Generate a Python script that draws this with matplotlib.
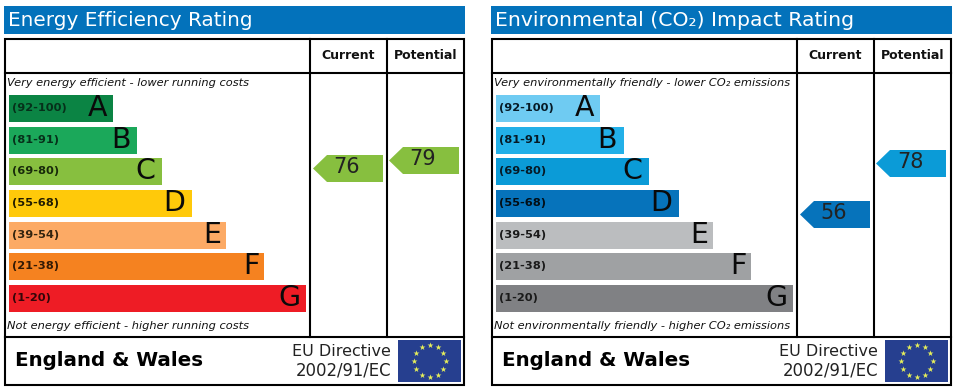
import matplotlib
matplotlib.use('Agg')
import matplotlib.pyplot as plt
from matplotlib.patches import Rectangle, Polygon
import numpy as np

# Bands, shared by both panels
bands = ['A', 'B', 'C', 'D', 'E', 'F', 'G']
ranges = ['(92-100)', '(81-91)', '(69-80)', '(55-68)', '(39-54)', '(21-38)', '(1-20)']
# bar lengths in px
bar_len_energy = [104, 128, 153, 183, 217, 255, 297]
bar_len_env = [104, 128, 153, 183, 217, 255, 297]
colors_energy = ['#0b8444', '#1ba85a', '#87bf3f', '#ffc90a', '#fcaa65', '#f58220', '#ee1c25']
colors_env = ['#6fcbf2', '#22b0e8', '#0b9bd7', '#0673bb', '#bbbdbf', '#9fa1a3', '#808184']
range_colors_energy = ['#06301a', '#06301a', '#182a0a', '#221c00', '#33240f', '#331a04', '#330608']
range_colors_env = ['#061a26', '#061a26', '#061a26', '#020e16', '#1a1a1a', '#1a1a1a', '#1a1a1a']

# Ratings: value and the y-centre of the arrow
current_energy = 76
potential_energy = 79
current_env = 56
potential_env = 78
y_current_energy = 168.5
y_potential_energy = 160.5
y_current_env = 214.5
y_potential_env = 163.5

title_energy = 'Energy Efficiency Rating'
title_env = 'Environmental (CO\u2082) Impact Rating'
top_energy = 'Very energy efficient - lower running costs'
bottom_energy = 'Not energy efficient - higher running costs'
top_env = 'Very environmentally friendly - lower CO\u2082 emissions'
bottom_env = 'Not environmentally friendly - higher CO\u2082 emissions'

bar_tops = [95, 127, 158, 190, 222, 253, 285]
# how far each letter's centre sits back from the bar end
letter_back = [15.5, 16.5, 16.5, 17.5, 14, 12.5, 16.5]
BAR_H = 27
BLUE = '#0372bb'

plt.rcParams['font.family'] = ['DejaVu Sans']
fig = plt.figure(figsize=(9.57, 3.92), dpi=100)
ax = fig.add_axes([0, 0, 1, 1])
ax.set_xlim(0, 957)
ax.set_ylim(392, 0)
ax.axis('off')


def arrow(x0, yc, value, color):
    # pointer is 70px long, 27px high
    pts = [(x0, yc), (x0 + 14, yc - 13.5), (x0 + 70, yc - 13.5), (x0 + 70, yc + 13.5), (x0 + 14, yc + 13.5)]
    ax.add_patch(Polygon(pts, closed=True, fc=color, ec='none', zorder=3))
    ax.text(x0 + 34, yc - 1.5, str(value), fontsize=15, ha='center', va='center', color='#222222', zorder=4)


def panel(x0, title, top, bottom, lens, cols, rcols, cur, pot, ycur, ypot, arrcur, arrpot, title_size):
    # x0 is the left of the blue header
    ax.add_patch(Rectangle((x0, 6), 461, 28, fc=BLUE, ec='none'))
    ax.text(x0 + 4, 20.5, title, color='white', fontsize=title_size, ha='left', va='center')
    # table frame
    lw = 1.5
    ax.add_patch(Rectangle((x0 + 1, 39), 459, 346, fc='white', ec='black', lw=lw, zorder=2))
    ax.plot([x0 + 1, x0 + 460], [73, 73], color='black', lw=lw, zorder=2)
    ax.plot([x0 + 1, x0 + 460], [337, 337], color='black', lw=lw, zorder=2)
    ax.plot([x0 + 306, x0 + 306], [39, 337], color='black', lw=lw, zorder=2)
    ax.plot([x0 + 383, x0 + 383], [39, 337], color='black', lw=lw, zorder=2)
    ax.text(x0 + 344.5, 55, 'Current', fontsize=9, fontweight='bold', ha='center', va='center', color='#111111', zorder=4)
    ax.text(x0 + 421.5, 55, 'Potential', fontsize=9, fontweight='bold', ha='center', va='center', color='#111111', zorder=4)
    ax.text(x0 + 3, 82.5, top, fontsize=8.2, style='italic', ha='left', va='center', color='#111111', zorder=4)
    ax.text(x0 + 3, 326, bottom, fontsize=8.2, style='italic', ha='left', va='center', color='#111111', zorder=4)
    for i in range(len(bands)):
        bx = x0 + 5
        ax.add_patch(Rectangle((bx, bar_tops[i]), lens[i], BAR_H, fc=cols[i], ec='none', zorder=3))
        ax.text(bx + 3, bar_tops[i] + 13, ranges[i], fontsize=8.2, fontweight='bold', ha='left', va='center',
                color=rcols[i], zorder=4)
        ax.text(bx + lens[i] - letter_back[i], bar_tops[i] + 12.5, bands[i], fontsize=20.5, ha='center', va='center',
                color='#0a0a0a', zorder=4)
    arrow(x0 + 309, ycur, cur, arrcur)
    arrow(x0 + 385, ypot, pot, arrpot)
    # footer
    ax.text(x0 + 11, 360.5, 'England & Wales', fontsize=14.3, fontweight='bold', ha='left', va='center', color='black', zorder=4)
    ax.text(x0 + 387, 351.5, 'EU Directive', fontsize=11.5, ha='right', va='center', color='#222222', zorder=4)
    ax.text(x0 + 387, 370.5, '2002/91/EC', fontsize=11.9, ha='right', va='center', color='#222222', zorder=4)
    # flag
    ax.add_patch(Rectangle((x0 + 394, 340), 63, 42, fc='#263f8f', ec='none', zorder=3))
    ang = np.arange(12) * np.pi / 6
    ax.scatter(x0 + 425.5 + 16 * np.sin(ang), 361 - 16 * np.cos(ang), marker='*', s=20, color='#e6ef5a', lw=0, zorder=4)


panel(4, title_energy, top_energy, bottom_energy, bar_len_energy, colors_energy, range_colors_energy,
      current_energy, potential_energy, y_current_energy, y_potential_energy, '#87bf3f', '#87bf3f', 14.4)
panel(491, title_env, top_env, bottom_env, bar_len_env, colors_env, range_colors_env,
      current_env, potential_env, y_current_env, y_potential_env, '#0673bb', '#0b9bd7', 14.7)

fig.savefig('out.png', dpi=100)
